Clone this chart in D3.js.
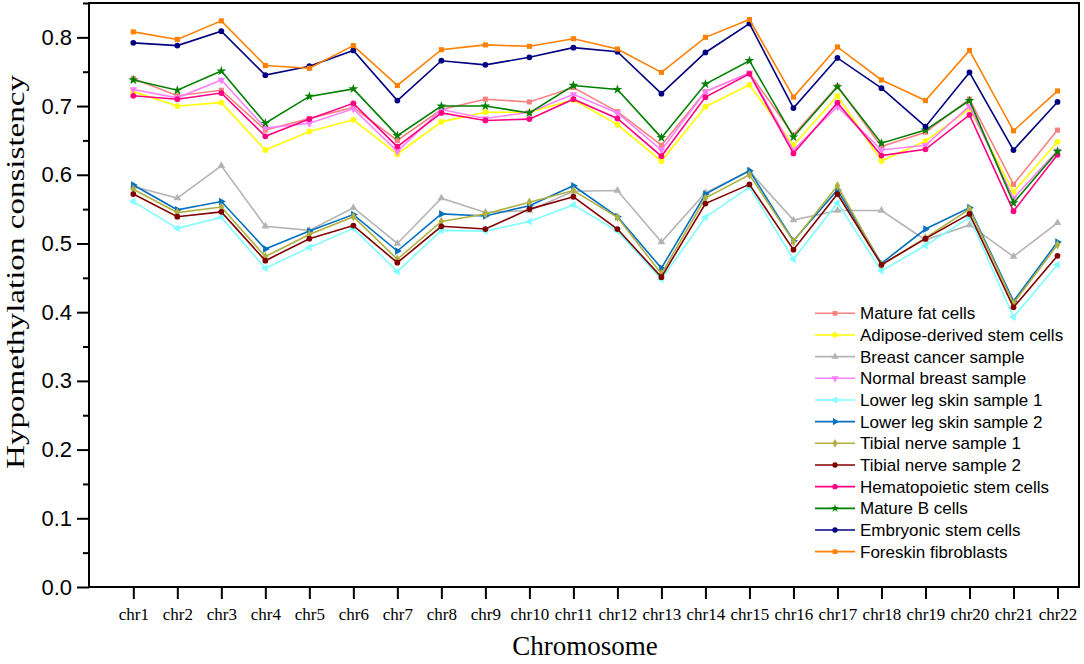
<!DOCTYPE html>
<html>
<head>
<meta charset="utf-8">
<script src="https://cdn.jsdelivr.net/npm/d3@7"></script>
<style>
  html, body { margin: 0; padding: 0; background: #fff; }
  svg { display: block; }
</style>
</head>
<body>
<svg id="chart" width="1084" height="664"></svg>
<script>
const chromosomes = ["chr1", "chr2", "chr3", "chr4", "chr5", "chr6", "chr7", "chr8", "chr9", "chr10", "chr11",
  "chr12", "chr13", "chr14", "chr15", "chr16", "chr17", "chr18", "chr19", "chr20", "chr21", "chr22"];

const yTicks = [0, 0.1, 0.2, 0.3, 0.4, 0.5, 0.6, 0.7, 0.8];

const seriesNames = ["Mature fat cells", "Adipose-derived stem cells", "Breast cancer sample", "Normal breast sample",
  "Lower leg skin sample 1", "Lower leg skin sample 2", "Tibial nerve sample 1", "Tibial nerve sample 2",
  "Hematopoietic stem cells", "Mature B cells", "Embryonic stem cells", "Foreskin fibroblasts"];

const matureFat = [0.740, 0.715, 0.723, 0.665, 0.682, 0.698, 0.650, 0.695, 0.710, 0.706, 0.727, 0.692, 0.643, 0.721, 0.748, 0.658, 0.729, 0.641, 0.662, 0.710, 0.586, 0.665];
const adipose = [0.721, 0.700, 0.705, 0.636, 0.663, 0.680, 0.630, 0.677, 0.691, 0.691, 0.709, 0.673, 0.620, 0.699, 0.731, 0.643, 0.715, 0.620, 0.649, 0.696, 0.575, 0.648];
const breastCancer = [0.583, 0.566, 0.613, 0.525, 0.519, 0.552, 0.500, 0.566, 0.545, 0.548, 0.576, 0.577, 0.502, 0.574, 0.605, 0.534, 0.548, 0.548, 0.505, 0.527, 0.481, 0.530];
const normalBreast = [0.724, 0.712, 0.738, 0.668, 0.675, 0.696, 0.634, 0.695, 0.682, 0.691, 0.717, 0.690, 0.636, 0.721, 0.748, 0.636, 0.699, 0.636, 0.643, 0.700, 0.566, 0.635];
const lowerLeg1 = [0.561, 0.522, 0.538, 0.464, 0.494, 0.522, 0.459, 0.519, 0.518, 0.532, 0.556, 0.518, 0.448, 0.538, 0.582, 0.477, 0.559, 0.460, 0.497, 0.538, 0.393, 0.469];
const lowerLeg2 = [0.585, 0.549, 0.561, 0.492, 0.518, 0.542, 0.489, 0.543, 0.540, 0.555, 0.584, 0.539, 0.464, 0.572, 0.606, 0.504, 0.578, 0.471, 0.521, 0.552, 0.416, 0.502];
const tibial1 = [0.579, 0.545, 0.553, 0.481, 0.513, 0.539, 0.477, 0.532, 0.543, 0.560, 0.577, 0.538, 0.456, 0.566, 0.600, 0.503, 0.584, 0.469, 0.508, 0.550, 0.413, 0.498];
const tibial2 = [0.572, 0.539, 0.546, 0.475, 0.507, 0.526, 0.472, 0.525, 0.521, 0.550, 0.568, 0.521, 0.451, 0.558, 0.586, 0.491, 0.572, 0.469, 0.507, 0.543, 0.407, 0.482];
const hematopoietic = [0.715, 0.710, 0.719, 0.656, 0.681, 0.704, 0.641, 0.690, 0.679, 0.681, 0.710, 0.682, 0.627, 0.713, 0.747, 0.631, 0.705, 0.628, 0.637, 0.687, 0.547, 0.629];
const matureB = [0.738, 0.723, 0.751, 0.675, 0.714, 0.725, 0.657, 0.700, 0.700, 0.690, 0.730, 0.724, 0.654, 0.732, 0.766, 0.655, 0.728, 0.646, 0.665, 0.708, 0.559, 0.634];
const embryonic = [0.792, 0.788, 0.809, 0.745, 0.758, 0.781, 0.708, 0.766, 0.760, 0.771, 0.785, 0.779, 0.718, 0.778, 0.820, 0.697, 0.770, 0.726, 0.670, 0.749, 0.636, 0.706];
const foreskin = [0.808, 0.797, 0.824, 0.759, 0.755, 0.788, 0.730, 0.782, 0.789, 0.787, 0.798, 0.783, 0.749, 0.800, 0.826, 0.713, 0.786, 0.738, 0.708, 0.781, 0.664, 0.722];

const seriesValues = [matureFat, adipose, breastCancer, normalBreast, lowerLeg1, lowerLeg2,
  tibial1, tibial2, hematopoietic, matureB, embryonic, foreskin];

// styling per series (colour, marker, rotation)
const colors = ["#f88080", "#ffff00", "#b4b4b4", "#ff80ff", "#80ffff", "#0070c0",
  "#b0b040", "#800000", "#ff0080", "#008000", "#000080", "#ff8000"];
const symbols = [d3.symbolSquare, d3.symbolCircle, d3.symbolTriangle, d3.symbolTriangle, d3.symbolTriangle, d3.symbolTriangle,
  d3.symbolDiamond, d3.symbolCircle, d3.symbolCircle, d3.symbolStar, d3.symbolCircle, d3.symbolSquare];
const rotations = [0, 0, 0, 180, -90, 90, 0, 0, 0, 0, 0, 0];

const svg = d3.select("#chart");

const frame = { left: 89, right: 1079, top: 3, bottom: 587 };

const x = d3.scalePoint()
  .domain(chromosomes)
  .range([133.3, 1057.5]);

const y = d3.scaleLinear()
  .domain([0, 0.85])
  .range([frame.bottom, frame.top]);

// box around the plot
svg.append("rect")
  .attr("x", frame.left)
  .attr("y", frame.top)
  .attr("width", frame.right - frame.left)
  .attr("height", frame.bottom - frame.top)
  .attr("fill", "none")
  .attr("stroke", "#000")
  .attr("stroke-width", 2);

// y axis, major + minor ticks
const yAxis = svg.append("g")
  .attr("transform", `translate(${frame.left},0)`)
  .call(d3.axisLeft(y).tickValues(yTicks).tickSize(12).tickPadding(5).tickFormat(d3.format(".1f")));
yAxis.select(".domain").remove();
yAxis.selectAll(".tick line").attr("stroke-width", 2);
yAxis.selectAll(".tick text")
  .attr("font-family", "Liberation Sans, Arial, sans-serif")
  .attr("font-size", 22)
  .attr("fill", "#000");

const minor = svg.append("g")
  .attr("transform", `translate(${frame.left},0)`)
  .call(d3.axisLeft(y).tickValues(yTicks.map(d => d + 0.05)).tickSize(6).tickFormat(""));
minor.select(".domain").remove();
minor.selectAll(".tick line").attr("stroke-width", 2);

// x axis
const xAxis = svg.append("g")
  .attr("transform", `translate(0,${frame.bottom})`)
  .call(d3.axisBottom(x).tickSize(12).tickPadding(9));
xAxis.select(".domain").remove();
xAxis.selectAll(".tick line").attr("stroke-width", 2);
xAxis.selectAll(".tick text")
  .attr("font-family", "Liberation Serif, Times New Roman, serif")
  .attr("font-size", 17)
  .attr("fill", "#000");

// axis titles
svg.append("text")
  .text("Chromosome")
  .attr("x", 585)
  .attr("y", 655)
  .attr("text-anchor", "middle")
  .attr("font-family", "Liberation Serif, Times New Roman, serif")
  .attr("font-size", 27);

svg.append("text")
  .text("Hypomethylation consistency")
  .attr("transform", "translate(24,272) rotate(-90)")
  .attr("text-anchor", "middle")
  .attr("font-family", "Liberation Serif, Times New Roman, serif")
  .attr("font-size", 25)
  .attr("textLength", 394)
  .attr("lengthAdjust", "spacingAndGlyphs");

// lines + markers
const line = d3.line()
  .x((d, i) => x(chromosomes[i]))
  .y(d => y(d));

const series = svg.append("g")
  .selectAll("g")
  .data(seriesValues)
  .join("g");

series.append("path")
  .attr("d", d => line(d))
  .attr("fill", "none")
  .attr("stroke", (d, i) => colors[i])
  .attr("stroke-width", 1.6);

series.each(function (vals, i) {
  d3.select(this).selectAll("path.mark")
    .data(vals)
    .join("path")
    .attr("class", "mark")
    .attr("d", d3.symbol().type(symbols[i]).size(symbols[i] === d3.symbolStar ? 30 : 26))
    .attr("transform", (d, j) => `translate(${x(chromosomes[j])},${y(d)}) rotate(${rotations[i]})`)
    .attr("fill", colors[i]);
});

// legend
const legend = svg.append("g")
  .attr("transform", "translate(815,313.3)");

const rows = legend.selectAll("g")
  .data(seriesNames)
  .join("g")
  .attr("transform", (d, i) => `translate(0,${i * 21.67})`);

rows.append("line")
  .attr("x1", 0)
  .attr("x2", 40)
  .attr("stroke", (d, i) => colors[i])
  .attr("stroke-width", 1.6);

rows.append("path")
  .attr("d", (d, i) => d3.symbol().type(symbols[i]).size(22)())
  .attr("transform", (d, i) => `translate(20,0) rotate(${rotations[i]})`)
  .attr("fill", (d, i) => colors[i]);

rows.append("text")
  .text(d => d)
  .attr("x", 45)
  .attr("dy", "0.35em")
  .attr("font-family", "Liberation Sans, Arial, sans-serif")
  .attr("font-size", 17)
  .attr("fill", "#000");
</script>
</body>
</html>
